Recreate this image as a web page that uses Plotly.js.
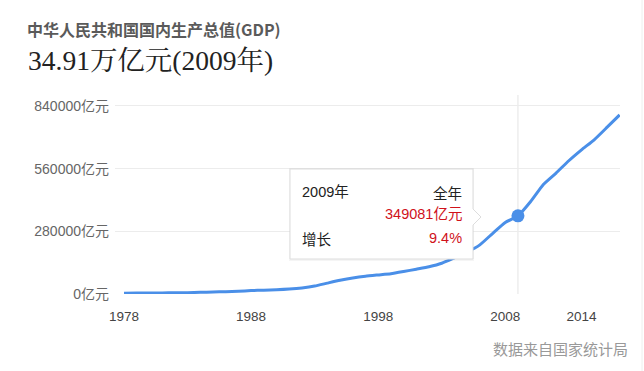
<!DOCTYPE html>
<html>
<head>
<meta charset="utf-8">
<script src="https://cdn.plot.ly/plotly-3.0.1.min.js"></script>
<style>
html,body{margin:0;padding:0;background:#fff;}
#chart{width:644px;height:371px;}
</style>
</head>
<body>
<div id="chart"></div>
<script>
// Data (亿元)
const years = [1978,1979,1980,1981,1982,1983,1984,1985,1986,1987,1988,1989,1990,1991,1992,1993,1994,1995,1996,1997,1998,1999,2000,2001,2002,2003,2004,2005,2006,2007,2008,2009,2010,2011,2012,2013,2014,2015,2016,2017];
const gdp = [3679,4101,4588,4936,5373,6021,7279,9099,10376,12175,15180,17180,18873,22006,27195,35673,48638,61340,71814,79715,85196,90564,100280,110863,121717,137422,161840,187319,219439,270232,319516,349081,413030,489301,540367,595244,643974,689052,744127,800000];
const highlightYear = [2009];
const highlightValue = [349081];
const highlightGrowth = ['9.4%'];
const xTickVals = [1978,1988,1998,2008,2014];
const xTickText = ['1978','1988','1998','2008','2014'];
const yTickVals = [0,280000,560000,840000];
const yTickText = ['0亿元','280000亿元','560000亿元','840000亿元'];

const blue = '#4a8fe8';
const cjk = '"Noto Sans CJK SC", "Noto Sans", sans-serif';
const latinCjk = '"Liberation Sans", "Noto Sans CJK SC", sans-serif';

// pixel -> paper helpers (plot area: x 115..620, y 95..294)
const L = 115, R = 620, T = 95, B = 294;
const px = v => (v - L) / (R - L);
const py = v => (B - v) / (B - T);

const traces = [
  {x: years, y: gdp, type: 'scatter', mode: 'lines',
   line: {color: blue, width: 3, shape: 'spline', smoothing: 0.5},
   hoverinfo: 'skip'},
  {x: highlightYear, y: highlightValue, type: 'scatter', mode: 'markers',
   marker: {color: blue, size: 13}, hoverinfo: 'skip'}
];

const layout = {
  width: 644, height: 371,
  margin: {l: L, r: 644 - R, t: T, b: 371 - B, pad: 0},
  paper_bgcolor: '#fff', plot_bgcolor: '#fff',
  showlegend: false,
  font: {family: latinCjk, color: '#555', size: 12},
  title: {
    text: '<b>中华人民共和国国内生产总值(GDP)</b>',
    font: {family: cjk, size: 16, color: '#5a5a5a'},
    xref: 'container', yref: 'container',
    x: 27 / 644, xanchor: 'left', y: 1 - 30 / 371, yanchor: 'middle'
  },
  xaxis: {
    range: [1977.29, 2017.03],
    tickvals: xTickVals, ticktext: xTickText,
    showgrid: false, zeroline: false, showline: false, ticks: '',
    tickfont: {size: 13.5, color: '#444', family: latinCjk},
    ticklabelstandoff: 12
  },
  yaxis: {
    range: [0, 889000],
    tickvals: yTickVals, ticktext: yTickText,
    showgrid: true, gridcolor: '#ececec', gridwidth: 1,
    zeroline: false, showline: false, ticks: '',
    tickfont: {size: 14, color: '#666', family: latinCjk},
    ticklabelstandoff: 5
  },
  shapes: [
    // vertical hover line at highlighted year
    {type: 'line', xref: 'x', yref: 'paper', x0: highlightYear[0], x1: highlightYear[0], y0: 0, y1: 1,
     line: {color: '#e4e4e4', width: 1}, layer: 'below'},
    // card right border
    {type: 'line', xref: 'paper', yref: 'paper', x0: px(642), x1: px(642), y0: py(371), y1: py(0),
     line: {color: '#eeeeee', width: 1}},
    // tooltip shadow
    {type: 'rect', xref: 'paper', yref: 'paper', x0: px(289), x1: px(474), y0: py(261), y1: py(168),
     fillcolor: 'rgba(0,0,0,0.04)', line: {width: 0}, layer: 'above'},
    // tooltip box
    {type: 'path', xref: 'paper', yref: 'paper', layer: 'above',
     path: 'M' + px(290) + ',' + py(169) + ' L' + px(473) + ',' + py(169) + ' L' + px(473) + ',' + py(209) +
           ' L' + px(481) + ',' + py(217) + ' L' + px(473) + ',' + py(225) + ' L' + px(473) + ',' + py(259) +
           ' L' + px(290) + ',' + py(259) + ' Z',
     fillcolor: '#ffffff', line: {color: '#dddddd', width: 1}}
  ],
  annotations: [
    {text: '34.91万亿元(2009年)', xref: 'paper', yref: 'paper', x: px(26), y: py(60),
     xanchor: 'left', yanchor: 'middle', showarrow: false,
     font: {family: '"Liberation Serif", "Noto Serif CJK SC", "Noto Sans CJK SC", serif', size: 27.5, color: '#222'}},
    {text: highlightYear[0] + '年', xref: 'paper', yref: 'paper', x: px(300), y: py(192),
     xanchor: 'left', yanchor: 'middle', showarrow: false, font: {size: 14.5, color: '#222', family: latinCjk}},
    {text: '全年', xref: 'paper', yref: 'paper', x: px(464), y: py(192),
     xanchor: 'right', yanchor: 'middle', showarrow: false, font: {size: 14.5, color: '#222', family: cjk}},
    {text: highlightValue[0] + '亿元', xref: 'paper', yref: 'paper', x: px(464), y: py(214),
     xanchor: 'right', yanchor: 'middle', showarrow: false, font: {size: 14.5, color: '#d0121b', family: latinCjk}},
    {text: '增长', xref: 'paper', yref: 'paper', x: px(300), y: py(238),
     xanchor: 'left', yanchor: 'middle', showarrow: false, font: {size: 14.5, color: '#222', family: cjk}},
    {text: highlightGrowth[0], xref: 'paper', yref: 'paper', x: px(464), y: py(238),
     xanchor: 'right', yanchor: 'middle', showarrow: false, font: {size: 14.5, color: '#d0121b', family: latinCjk}},
    {text: '数据来自国家统计局', xref: 'paper', yref: 'paper', x: px(630), y: py(348),
     xanchor: 'right', yanchor: 'middle', showarrow: false, font: {size: 15, color: '#999', family: cjk}}
  ]
};

Plotly.newPlot('chart', traces, layout, {displayModeBar: false, staticPlot: true});
</script>
</body>
</html>
